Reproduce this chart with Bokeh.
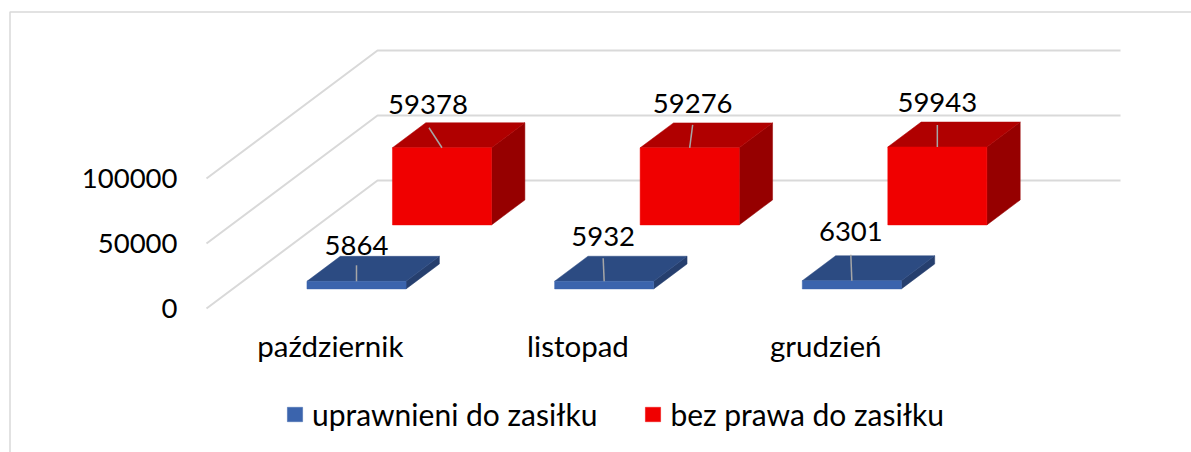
from bokeh.plotting import figure
from bokeh.embed import file_html
from bokeh.resources import INLINE
from bokeh.models import FixedTicker, Legend, LegendItem
from bokeh.core.properties import value

categories = ["październik", "listopad", "grudzień"]
series_names = ["uprawnieni do zasiłku", "bez prawa do zasiłku"]
uprawnieni = [5864, 5932, 6301]
bez_prawa = [59378, 59276, 59943]
y_ticks = [0, 50000, 100000]

FONT = "Lato"
FS_NUM = "27.5px"
FS_TXT = "29.5px"
GRID = "#D9D9D9"
PX_X = 247.67          # pixels per category
PX_Y = 65 / 50000      # pixels per value unit
DEPTH_X = 171 / PX_X   # wall depth in category units
DEPTH_Y = 128 / PX_Y   # wall depth in value units
ORIGIN_X, ORIGIN_Y = 206, 308   # page position of category 0 / value 0
W, H = 1191, 452


def dx(px):
    return px / PX_X


def dy(px):
    return px / PX_Y


def proj(cat, val, z):
    return cat + DEPTH_X * z, val + DEPTH_Y * z


def page(px, py):
    return (px - ORIGIN_X) / PX_X, (ORIGIN_Y - py) / PX_Y


x0, y1 = page(0, 0)
x1, y0 = page(W, H)
p = figure(
    width=W, height=H, output_backend="svg", toolbar_location=None,
    x_range=(x0, x1), y_range=(y0, y1),
    min_border_left=0, min_border_right=0, min_border_top=0, min_border_bottom=0,
    background_fill_color="white", border_fill_color="white",
)
p.outline_line_color = None
p.grid.visible = False

# chart border
bx, by = zip(page(9.5, H), page(9.5, 11.5), page(W, 11.5))
p.line(list(bx), list(by), line_color=GRID, line_width=1.5)

# axes
p.yaxis.fixed_location = 0
p.yaxis.ticker = FixedTicker(ticks=y_ticks)
p.yaxis.major_label_overrides = {t: str(t) for t in y_ticks}
p.yaxis.axis_line_color = None
p.yaxis.major_tick_line_color = None
p.yaxis.minor_tick_line_color = None
p.yaxis.major_label_standoff = 29 - 6
p.yaxis.major_label_text_font = FONT
p.yaxis.major_label_text_font_size = FS_NUM
p.yaxis.major_label_text_color = "black"
p.yaxis.major_label_orientation = "horizontal"

n = len(categories)
p.xaxis.fixed_location = 0
p.xaxis.ticker = FixedTicker(ticks=[i + 0.5 for i in range(n)])
p.xaxis.major_label_overrides = {i + 0.5: c for i, c in enumerate(categories)}
p.xaxis.axis_line_color = None
p.xaxis.major_tick_line_color = None
p.xaxis.minor_tick_line_color = None
p.xaxis.major_label_standoff = 13
p.xaxis.major_label_text_font = FONT
p.xaxis.major_label_text_font_size = FS_TXT
p.xaxis.major_label_text_color = "black"

# gridlines: left wall + back wall
gx, gy = [], []
for t in y_ticks:
    a = proj(0, t, 0)
    b = proj(0, t, 1)
    c = proj(n, t, 1)
    gx.append([a[0], b[0], c[0]])
    gy.append([a[1], b[1], c[1]])
p.multi_line(gx, gy, line_color=GRID, line_width=2)

BAR_W = 0.4
BAR_D = 0.195
Z_START = [0.153, 0.653]
COLORS = [("#3B64AD", "#2C4B82", "#263F6E"), ("#F00000", "#B00000", "#960000")]

# label placement, pixels from the centre of the bar's front top edge
label_off = [[(0, -36), (-1, -45), (-1, -49)], [(-14, -43), (3, -44), (0, -44)]]
leader_off = [[(0, -16), (-1, -23), (-1, -26)], [(-13, -20), (3, -23), (0, -22)]]

legend_items = {}
for s in (1, 0):
    vals = bez_prawa if s == 1 else uprawnieni
    z0 = Z_START[s]
    z1 = z0 + BAR_D
    front, top, side = COLORS[s]
    fx, fy, tx, ty, sx, sy = [], [], [], [], [], []
    lx, ly, lt, sgx, sgy = [], [], [], [], []
    for i, v in enumerate(vals):
        c0 = i + 0.5 - BAR_W / 2
        c1 = i + 0.5 + BAR_W / 2
        A, B = proj(c0, 0, z0), proj(c1, 0, z0)
        C, D = proj(c1, v, z0), proj(c0, v, z0)
        E, F = proj(c1, v, z1), proj(c0, v, z1)
        G = proj(c1, 0, z1)
        fx.append([A[0], B[0], C[0], D[0]])
        fy.append([A[1], B[1], C[1], D[1]])
        tx.append([D[0], C[0], E[0], F[0]])
        ty.append([D[1], C[1], E[1], F[1]])
        sx.append([B[0], G[0], E[0], C[0]])
        sy.append([B[1], G[1], E[1], C[1]])
        mx, my = proj(i + 0.5, v, z0)
        ox, oy = label_off[s][i]
        lx.append(mx + dx(ox))
        ly.append(my - dy(oy))
        lt.append(str(v))
        qx, qy = leader_off[s][i]
        sgx.append([mx, mx + dx(qx)])
        sgy.append([my, my - dy(qy)])
    p.patches(sx, sy, fill_color=side, line_color=side, line_width=0.5)
    p.patches(tx, ty, fill_color=top, line_color=top, line_width=0.5)
    r = p.patches(fx, fy, fill_color=front, line_color=front, line_width=0.5)
    legend_items[s] = r
    p.multi_line(sgx, sgy, line_color="#A6A6A6", line_width=1.5)
    p.text(lx, ly, text=lt, text_font=value(FONT), text_font_size=value(FS_NUM),
           text_color="black", text_align="center", text_baseline="middle")

legend = Legend(
    items=[LegendItem(label=series_names[0], renderers=[legend_items[0]]),
           LegendItem(label=series_names[1], renderers=[legend_items[1]])],
    orientation="horizontal", location=(285, 20),
    background_fill_alpha=0, border_line_color=None,
    glyph_width=19, glyph_height=18, label_standoff=8, spacing=46, margin=0, padding=0,
    label_text_font=FONT, label_text_font_size="30px", label_text_color="black",
)
p.add_layout(legend, "center")

open("out.html", "w").write(file_html(p, INLINE))
